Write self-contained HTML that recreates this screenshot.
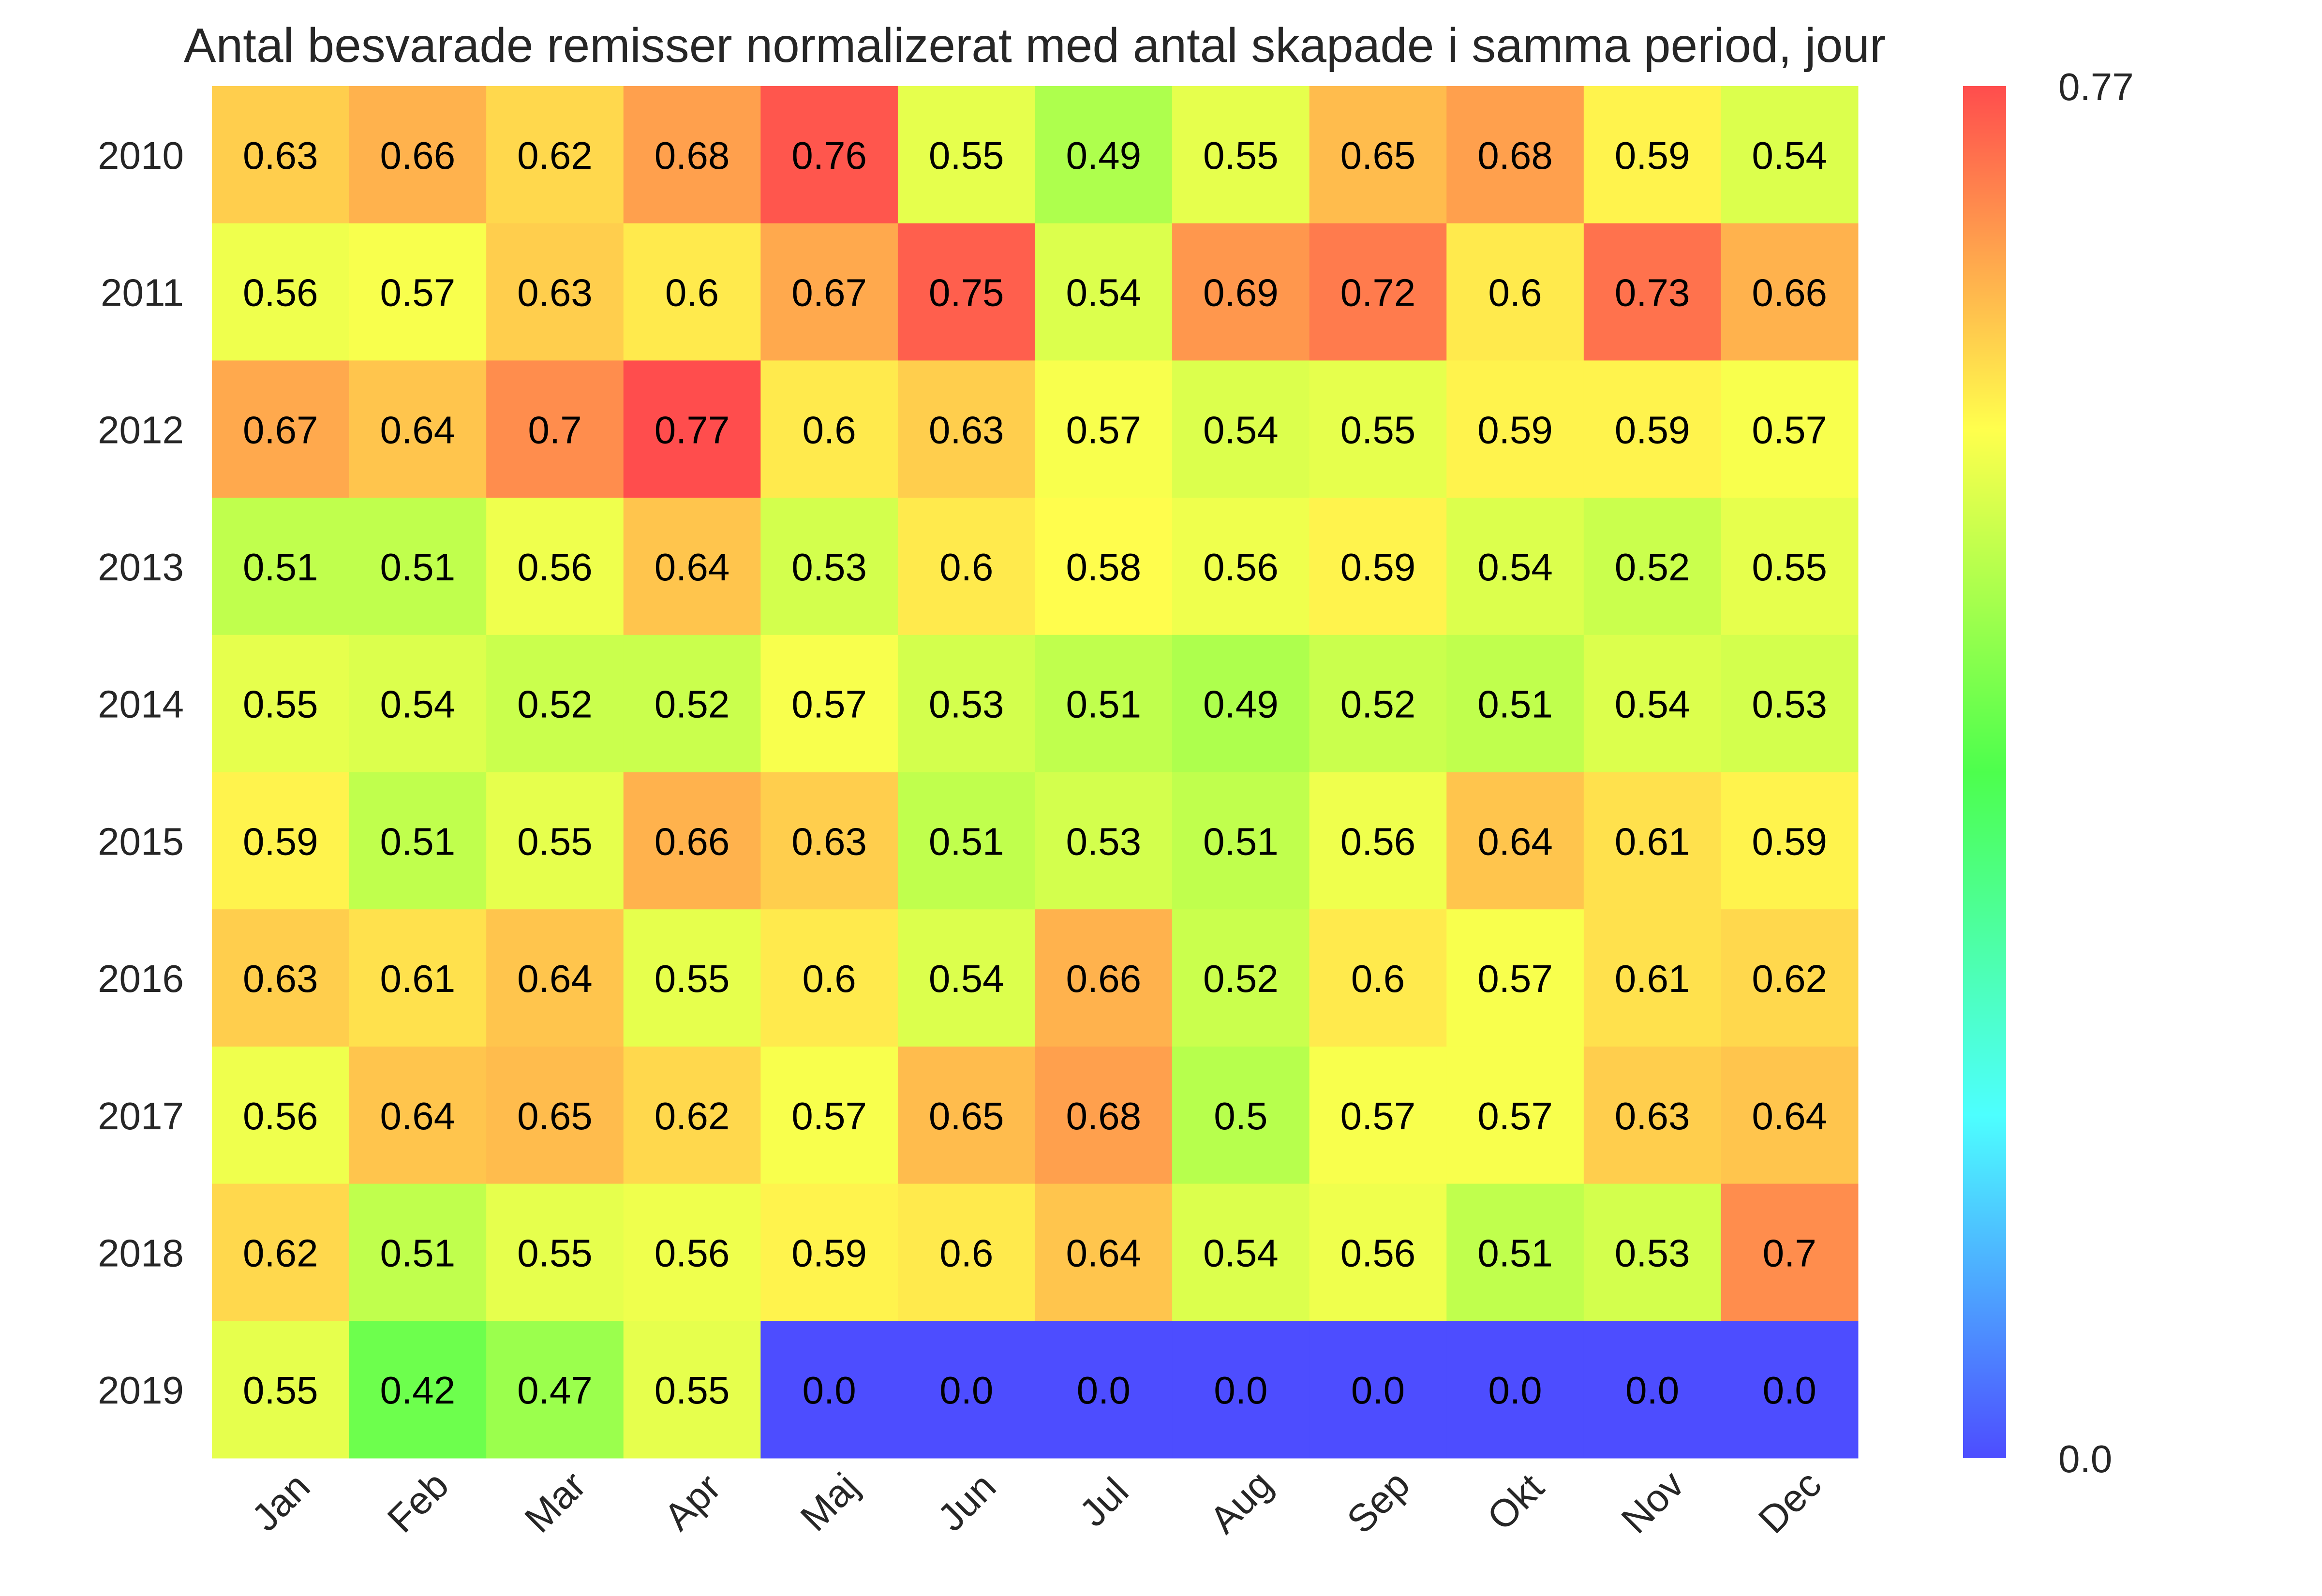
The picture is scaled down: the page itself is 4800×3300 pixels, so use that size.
<!DOCTYPE html>
<html><head><meta charset="utf-8">
<style>
html,body{margin:0;padding:0;background:#fff;}
svg{display:block;font-family:"Liberation Sans",Arial,sans-serif;}
</style></head>
<body>
<svg id="chart" width="4800" height="3300" viewBox="0 0 4800 3300" xmlns="http://www.w3.org/2000/svg">
<text x="2139" y="128" font-size="100" text-anchor="middle" fill="#262626">Antal besvarade remisser normalizerat med antal skapade i samma period, jour</text>
<g id="cells"></g>
<g id="ylabels"></g>
<g id="xlabels"></g>
<g id="cbar"></g>
</svg>
<script>
const years = ["2010","2011","2012","2013","2014","2015","2016","2017","2018","2019"];
const months = ["Jan","Feb","Mar","Apr","Maj","Jun","Jul","Aug","Sep","Okt","Nov","Dec"];
const v2010 = [0.63,0.66,0.62,0.68,0.76,0.55,0.49,0.55,0.65,0.68,0.59,0.54];
const v2011 = [0.56,0.57,0.63,0.6,0.67,0.75,0.54,0.69,0.72,0.6,0.73,0.66];
const v2012 = [0.67,0.64,0.7,0.77,0.6,0.63,0.57,0.54,0.55,0.59,0.59,0.57];
const v2013 = [0.51,0.51,0.56,0.64,0.53,0.6,0.58,0.56,0.59,0.54,0.52,0.55];
const v2014 = [0.55,0.54,0.52,0.52,0.57,0.53,0.51,0.49,0.52,0.51,0.54,0.53];
const v2015 = [0.59,0.51,0.55,0.66,0.63,0.51,0.53,0.51,0.56,0.64,0.61,0.59];
const v2016 = [0.63,0.61,0.64,0.55,0.6,0.54,0.66,0.52,0.6,0.57,0.61,0.62];
const v2017 = [0.56,0.64,0.65,0.62,0.57,0.65,0.68,0.5,0.57,0.57,0.63,0.64];
const v2018 = [0.62,0.51,0.55,0.56,0.59,0.6,0.64,0.54,0.56,0.51,0.53,0.7];
const v2019 = [0.55,0.42,0.47,0.55,0.0,0.0,0.0,0.0,0.0,0.0,0.0,0.0];
const values = [v2010,v2011,v2012,v2013,v2014,v2015,v2016,v2017,v2018,v2019];
const vmin = 0, vmax = 0.77;
const cbTicks = ["0.0","0.77"];
const cbTickVals = [0, 0.77];

const NS = "http://www.w3.org/2000/svg";
const L = 438, T = 178, R = 3841, B = 3015;
const cw = (R - L) / months.length, ch = (B - T) / years.length;
const xPos = i => L + i * cw;
const yPos = j => T + j * ch;

function color(v){
  let t = Math.max(0, Math.min(1, (v - vmin) / (vmax - vmin)));
  const h = 240 * (1 - t);
  const f = (n) => { const k = (n + h/60) % 6; return 1 - Math.max(0, Math.min(k, 4 - k, 1)); };
  const rgb = [f(5), f(3), f(1)].map(c => Math.round(255 * (0.3 + 0.7 * c)));
  return `rgb(${rgb[0]},${rgb[1]},${rgb[2]})`;
}
function mk(tag, attrs){ const e = document.createElementNS(NS, tag); for (const k in attrs) e.setAttribute(k, attrs[k]); return e; }
function fmt(v){ let s = String(v); if (!s.includes(".")) s += ".0"; return s; }

const cells = document.getElementById("cells");
values.forEach((row, j) => row.forEach((v, i) => {
  const r = mk("rect", {x: xPos(i), y: yPos(j), width: cw + 0.5, height: ch + 0.5, fill: color(v)});
  
  
  cells.appendChild(r);
  const t = mk("text", {x: xPos(i) + cw/2, y: yPos(j) + ch/2 + 29, "font-size": 80, "text-anchor": "middle", fill: "#000"});
  t.textContent = fmt(v);
  
  
  cells.appendChild(t);
}));

const yl = document.getElementById("ylabels");
years.forEach((y, j) => {
  const t = mk("text", {x: 380, y: yPos(j) + ch/2 + 29, "font-size": 80, "text-anchor": "end", fill: "#262626"});
  t.textContent = y;
  
  
  yl.appendChild(t);
});

const xl = document.getElementById("xlabels");
months.forEach((m, i) => {
  const cx = xPos(i) + cw/2 + 20, cy = B + 110;
  const t = mk("text", {x: cx, y: cy, "font-size": 80, "text-anchor": "middle", fill: "#262626", transform: `rotate(-45 ${cx} ${cy})`});
  t.textContent = m;
  
  
  xl.appendChild(t);
});

const cb = document.getElementById("cbar");
const CBL = 4058, CBW = 89, CBT = T, CBB = B;
const grad = mk("linearGradient", {id: "cg", x1: 0, y1: 1, x2: 0, y2: 0});
for (let k = 0; k <= 24; k++){
  grad.appendChild(mk("stop", {offset: k/24, "stop-color": color(vmin + (vmax - vmin) * k/24)}));
}
const defs = mk("defs", {}); defs.appendChild(grad); cb.appendChild(defs);
const cbr = mk("rect", {x: CBL, y: CBT, width: CBW, height: CBB - CBT, fill: "url(#cg)"});


cb.appendChild(cbr);
const cbY = v => CBB - (v - vmin) / (vmax - vmin) * (CBB - CBT);
cbTicks.forEach((lab, k) => {
  const t = mk("text", {x: 4255, y: cbY(cbTickVals[k]) + 29, "font-size": 80, fill: "#262626"});
  t.textContent = lab;
  
  
  cb.appendChild(t);
});
</script>
</body></html>
